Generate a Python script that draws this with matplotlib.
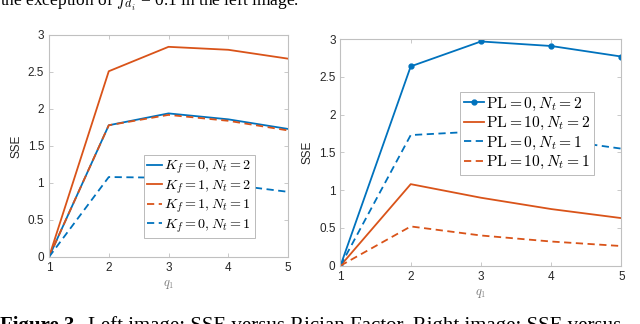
import matplotlib.pyplot as plt
from matplotlib.ticker import FormatStrFormatter

plt.rcParams["mathtext.fontset"] = "cm"

q1 = [1, 2, 3, 4, 5]

# left panel: SSE vs Rician factor
k0_n2 = [0, 1.78, 1.94, 1.86, 1.73]
k1_n2 = [0, 2.51, 2.84, 2.80, 2.68]
k1_n1 = [0, 1.78, 1.92, 1.84, 1.71]
k0_n1 = [0, 1.08, 1.07, 0.98, 0.88]
left_labels = ["$K_f = 0, N_t = 2$", "$K_f = 1, N_t = 2$",
               "$K_f = 1, N_t = 1$", "$K_f = 0, N_t = 1$"]

# right panel: SSE vs path loss
pl0_n2 = [0, 2.64, 2.97, 2.91, 2.77]
pl10_n2 = [0, 1.08, 0.90, 0.75, 0.63]
pl0_n1 = [0, 1.73, 1.78, 1.68, 1.55]
pl10_n1 = [0, 0.52, 0.40, 0.32, 0.26]
right_labels = [r"$\mathrm{PL} = 0, N_t = 2$", r"$\mathrm{PL} = 10, N_t = 2$",
                r"$\mathrm{PL} = 0, N_t = 1$", r"$\mathrm{PL} = 10, N_t = 1$"]

yticks = [0, 0.5, 1, 1.5, 2, 2.5, 3]

blue = "#0072BD"
red = "#D95319"
dash = (0, (4, 2.5))
lw = 1.3

fig = plt.figure(figsize=(6.4, 3.24), dpi=100)
ax1 = fig.add_axes([0.0766, 0.207, 0.3734, 0.685])
ax2 = fig.add_axes([0.532, 0.180, 0.439, 0.699])


def style(ax):
    ax.set_xlim(1, 5)
    ax.set_ylim(0, 3)
    ax.set_xticks(q1)
    ax.set_yticks(yticks)
    ax.yaxis.set_major_formatter(FormatStrFormatter("%g"))
    ax.tick_params(direction="in", top=True, right=True, length=3, width=0.6,
                   colors="#c0c0c0", labelcolor="#262626", labelsize=8.5)
    for s in ax.spines.values():
        s.set_color("#c0c0c0")
        s.set_linewidth(0.8)
    for lab in ax.get_xticklabels() + ax.get_yticklabels():
        lab.set_family("Liberation Sans")
    ax.set_ylabel("SSE", fontsize=8.5, family="Liberation Sans", color="#262626", labelpad=4)
    ax.set_xlabel("$q_1$", fontsize=9, color="#808080", labelpad=3)


def legend(ax, anchor, size, hlen):
    leg = ax.legend(loc="upper left", bbox_to_anchor=anchor, borderaxespad=0,
                    fontsize=size, handlelength=hlen, handletextpad=0.1, labelspacing=0.15,
                    borderpad=0.25, fancybox=False, framealpha=1, edgecolor="#b0b0b0")
    leg.get_frame().set_linewidth(0.6)


ax1.plot(q1, k0_n2, color=blue, lw=lw, label=left_labels[0])
ax1.plot(q1, k1_n2, color=red, lw=lw, label=left_labels[1])
ax1.plot(q1, k1_n1, color=red, lw=lw, ls=dash, label=left_labels[2])
ax1.plot(q1, k0_n1, color=blue, lw=lw, ls=dash, label=left_labels[3])
style(ax1)
legend(ax1, (0.397, 0.459), 10.2, 1.05)

ax2.plot(q1, pl0_n2, color=blue, lw=lw, marker="o", ms=3.5, label=right_labels[0])
ax2.plot(q1, pl10_n2, color=red, lw=lw, label=right_labels[1])
ax2.plot(q1, pl0_n1, color=blue, lw=lw, ls=dash, label=right_labels[2])
ax2.plot(q1, pl10_n1, color=red, lw=lw, ls=dash, label=right_labels[3])
style(ax2)
legend(ax2, (0.425, 0.769), 11.2, 1.3)

fig.text(0.0, 1 - 6 / 324, "the exception of $f_{d_i}$ = 0.1 in the left image.",
         fontsize=12.5, family="Liberation Serif", va="baseline", ha="left")

cap_y = -7 / 324
fig.text(0.0, cap_y, "Figure 3.", fontsize=15, family="Liberation Serif",
         weight="bold", va="baseline", ha="left")
fig.text(88 / 640, cap_y, "Left image: SSE versus Rician Factor. Right image: SSE versus",
         fontsize=15, family="Liberation Serif", va="baseline", ha="left")

fig.savefig("out.png", dpi=100)
